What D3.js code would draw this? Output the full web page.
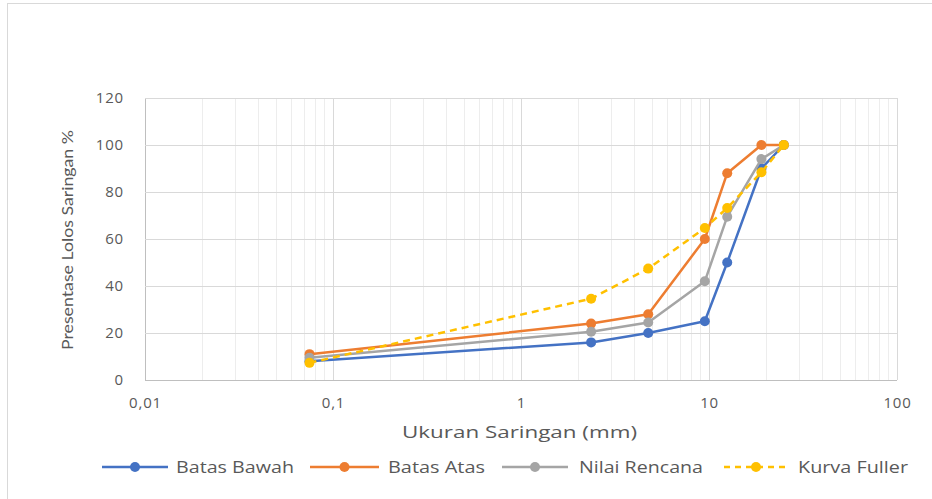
<!DOCTYPE html>
<html>
<head>
<meta charset="utf-8">
<script src="https://cdn.jsdelivr.net/npm/d3@7"></script>
<style>
  html, body { margin: 0; padding: 0; background: #fff; }
  svg { display: block; }
  text { font-family: "Open Sans", Lato, sans-serif; fill: #595959; }
</style>
</head>
<body>
<svg id="chart" width="932" height="499"></svg>
<script>
// Sieve sizes (mm) and percent passing for each gradation curve
const sieveSizes   = [0.075, 2.36, 4.75, 9.5, 12.5, 19, 25];
const batasBawah   = [8, 16, 20, 25, 50, 90, 100];
const batasAtas    = [11, 24, 28, 60, 88, 100, 100];
const nilaiRencana = [9.5, 20.5, 24.5, 42, 69.5, 94, 100];
const kurvaFuller  = [7.3, 34.6, 47.4, 64.7, 73.2, 88.4, 100];

const seriesNames  = ["Batas Bawah", "Batas Atas", "Nilai Rencana", "Kurva Fuller"];
const seriesColors = ["#4472C4", "#ED7D31", "#A5A5A5", "#FFC000"];
const xTickValues  = [0.01, 0.1, 1, 10, 100];
const xTickLabels  = ["0,01", "0,1", "1", "10", "100"];
const yTickValues  = [0, 20, 40, 60, 80, 100, 120];

const allSeries = [batasBawah, batasAtas, nilaiRencana, kurvaFuller];

const svg = d3.select("#chart");

// chart frame
svg.append("rect")
  .attr("x", 7.5).attr("y", 3.5)
  .attr("width", 940).attr("height", 520)
  .attr("fill", "none").attr("stroke", "#d9d9d9").attr("stroke-width", 1);

const x = d3.scaleLog().domain([0.01, 100]).range([145, 897]);
const y = d3.scaleLinear().domain([0, 120]).range([380, 98]);

// minor vertical gridlines (2..9 in each decade)
const minor = [];
for (let e = -2; e < 2; e++) {
  for (let m = 2; m <= 9; m++) minor.push(m * Math.pow(10, e));
}
svg.append("g").selectAll("line").data(minor).join("line")
  .attr("x1", d => Math.round(x(d)) + 0.5).attr("x2", d => Math.round(x(d)) + 0.5)
  .attr("y1", y(120)).attr("y2", y(0))
  .attr("stroke", "#ededed").attr("stroke-width", 1);

// major vertical gridlines
svg.append("g").selectAll("line").data(xTickValues).join("line")
  .attr("x1", d => Math.round(x(d)) + 0.5).attr("x2", d => Math.round(x(d)) + 0.5)
  .attr("y1", y(120)).attr("y2", y(0))
  .attr("stroke", d => d === 0.01 ? "#bfbfbf" : "#d9d9d9").attr("stroke-width", 1);

// horizontal gridlines
svg.append("g").selectAll("line").data(yTickValues).join("line")
  .attr("x1", x(0.01)).attr("x2", x(100))
  .attr("y1", d => Math.round(y(d)) + 0.5).attr("y2", d => Math.round(y(d)) + 0.5)
  .attr("stroke", d => d === 0 ? "#bfbfbf" : "#d9d9d9").attr("stroke-width", 1);

// x axis labels
const xAxis = d3.axisBottom(x).tickValues(xTickValues)
  .tickFormat((d, i) => xTickLabels[i]).tickSize(0).tickPadding(17);
const gx = svg.append("g").attr("transform", `translate(0,${y(0)})`).call(xAxis);
gx.select(".domain").remove();
gx.selectAll("text").style("font-size", "15px").attr("fill", "#595959")
  .style("font-family", "'Open Sans', sans-serif").style("letter-spacing", "0.8px");

// y axis labels
const yAxis = d3.axisLeft(y).tickValues(yTickValues).tickSize(0).tickPadding(21);
const gy = svg.append("g").attr("transform", `translate(${x(0.01)},0)`).call(yAxis);
gy.select(".domain").remove();
gy.selectAll("text").style("font-size", "15px").attr("fill", "#595959")
  .style("font-family", "'Open Sans', sans-serif").style("letter-spacing", "0.8px");

// axis titles
svg.append("text")
  .attr("x", 402).attr("y", 438)
  .attr("textLength", 235).attr("lengthAdjust", "spacingAndGlyphs")
  .style("font-size", "16.5px")
  .text("Ukuran Saringan (mm)");
svg.append("text")
  .attr("transform", "translate(73,350) rotate(-90)")
  .attr("textLength", 220).attr("lengthAdjust", "spacingAndGlyphs")
  .style("font-size", "15.5px").style("font-family", "Lato, sans-serif")
  .text("Presentase Lolos Saringan %");

// curves
const line = d3.line().x(d => x(d[0])).y(d => y(d[1]));
allSeries.forEach((vals, i) => {
  const pts = sieveSizes.map((s, j) => [s, vals[j]]);
  const g = svg.append("g");
  g.append("path").datum(pts)
    .attr("d", line).attr("fill", "none")
    .attr("stroke", seriesColors[i]).attr("stroke-width", 2.5)
    .attr("stroke-dasharray", i === 3 ? "7,5" : null)
    .attr("stroke-linejoin", "round");
  g.selectAll("circle").data(pts).join("circle")
    .attr("cx", d => x(d[0])).attr("cy", d => y(d[1])).attr("r", 5)
    .attr("fill", seriesColors[i]);
});

// legend
const legendItems = [
  { x0: 102, x1: 168, text: 176, w: 118 },
  { x0: 310, x1: 379, text: 388, w: 97 },
  { x0: 502, x1: 568, text: 579, w: 124 },
  { x0: 724, x1: 788, text: 798, w: 110 }
];
const ly = 467;
legendItems.forEach((it, i) => {
  const g = svg.append("g");
  g.append("line")
    .attr("x1", it.x0).attr("x2", it.x1)
    .attr("y1", ly).attr("y2", ly)
    .attr("stroke", seriesColors[i]).attr("stroke-width", 2.5)
    .attr("stroke-dasharray", i === 3 ? "6,5" : null);
  g.append("circle").attr("cx", (it.x0 + it.x1) / 2).attr("cy", ly).attr("r", 5)
    .attr("fill", seriesColors[i]);
  g.append("text").attr("x", it.text).attr("y", ly + 5.5)
    .attr("textLength", it.w).attr("lengthAdjust", "spacingAndGlyphs")
    .style("font-size", "15.5px").text(seriesNames[i]);
});
</script>
</body>
</html>
